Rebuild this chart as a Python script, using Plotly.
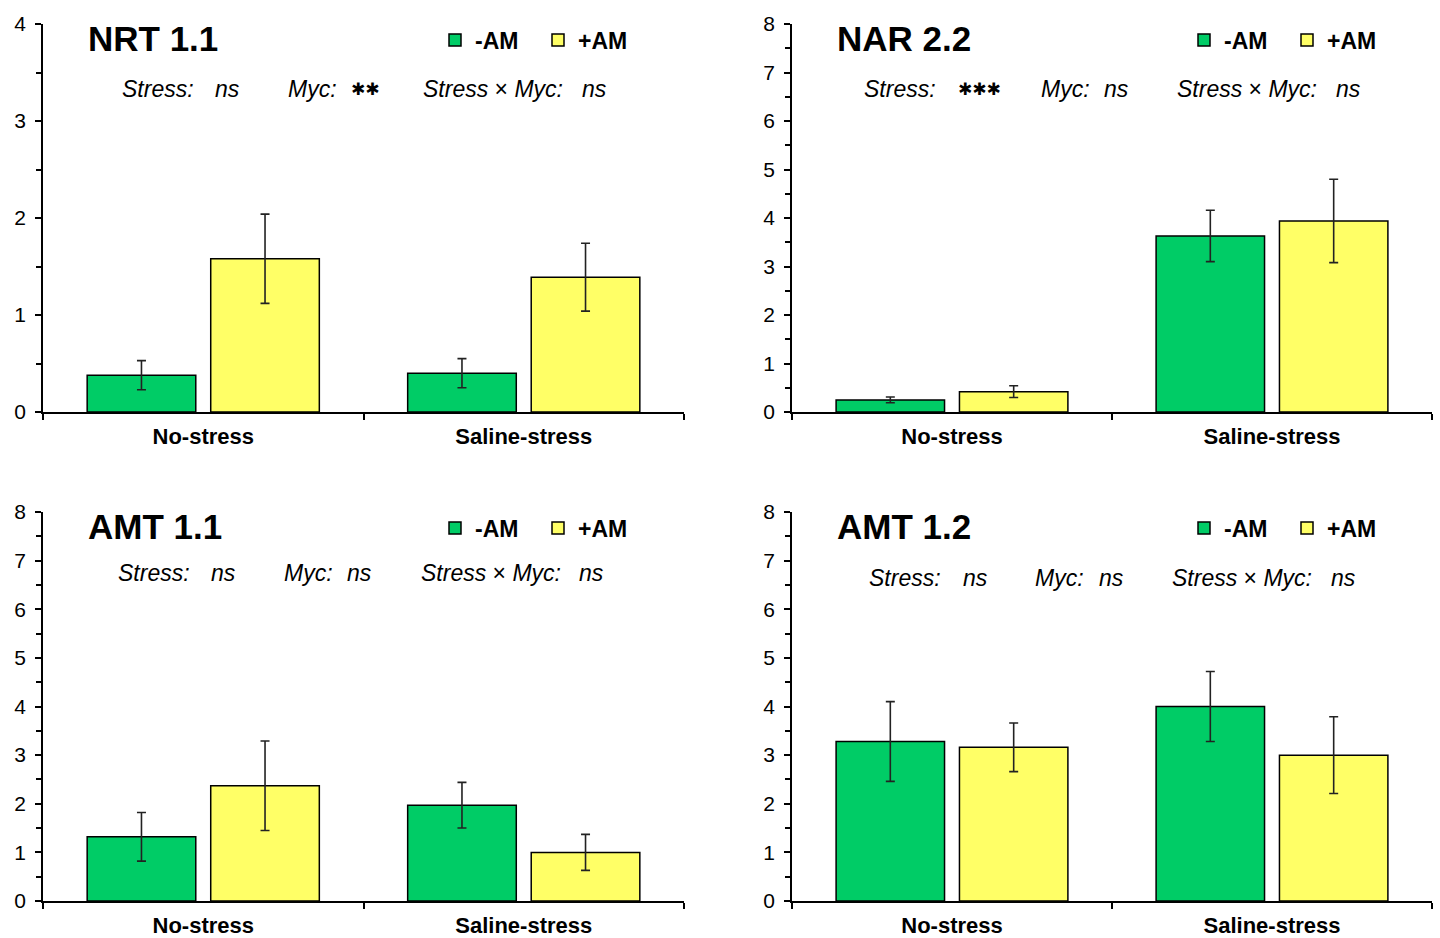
import plotly.graph_objects as go

# Relative expression of nitrogen transporter genes
categories = ["No-stress", "Saline-stress"]
treatments = ["-AM", "+AM"]
colors = {"-AM": "#00CC66", "+AM": "#FFFF66"}

genes = ["NRT 1.1", "NAR 2.2", "AMT 1.1", "AMT 1.2"]

nrt11_minus = [0.38, 0.40]
nrt11_minus_se = [0.15, 0.15]
nrt11_plus = [1.58, 1.39]
nrt11_plus_se = [0.46, 0.35]

nar22_minus = [0.25, 3.63]
nar22_minus_se = [0.06, 0.53]
nar22_plus = [0.42, 3.94]
nar22_plus_se = [0.12, 0.86]

amt11_minus = [1.32, 1.97]
amt11_minus_se = [0.50, 0.47]
amt11_plus = [2.37, 1.00]
amt11_plus_se = [0.92, 0.37]

amt12_minus = [3.28, 4.00]
amt12_minus_se = [0.82, 0.72]
amt12_plus = [3.16, 3.00]
amt12_plus_se = [0.50, 0.79]

y_max = [4, 8, 8, 8]

# ANOVA significance per gene: Stress, Myc, Stress x Myc
stress_sig = ["ns", "✱✱✱", "ns", "ns"]
myc_sig = ["✱✱", "ns", "ns", "ns"]
inter_sig = ["ns", "ns", "ns", "ns"]

series = [
    (nrt11_minus, nrt11_minus_se, nrt11_plus, nrt11_plus_se),
    (nar22_minus, nar22_minus_se, nar22_plus, nar22_plus_se),
    (amt11_minus, amt11_minus_se, amt11_plus, amt11_plus_se),
    (amt12_minus, amt12_minus_se, amt12_plus, amt12_plus_se),
]

W, H = 1440, 938
FONT = "Liberation Sans, Arial, sans-serif"

# panel placement in pixels: (left, right, top, bottom) of the plotting area
panels = [
    (43, 684, 24, 412),
    (792, 1432, 24, 412),
    (43, 684, 512, 901),
    (792, 1432, 512, 901),
]
# vertical pixel of the statistics line per panel
stat_y = [89, 89, 573, 578]
# horizontal offsets of the statistics pieces, relative to the panel's left edge
stat_x = [
    [77, 170, 243, 306, 378, 537],
    [70, 164, 247, 310, 383, 542],
    [73, 166, 239, 302, 376, 534],
    [75, 169, 241, 305, 378, 537],
]

fig = go.Figure()
layout = dict(
    template="none",
    width=W, height=H,
    margin=dict(l=0, r=0, t=0, b=0, autoexpand=False),
    paper_bgcolor="white", plot_bgcolor="white",
    barmode="group", bargap=0.229, bargroupgap=0.121,
    font=dict(family=FONT, color="black"),
    annotations=[],
)

for i, (gene, (m, mse, p, pse)) in enumerate(zip(genes, series)):
    n = "" if i == 0 else str(i + 1)
    xa, ya = "x" + n, "y" + n
    leg = "legend" + n
    for name, vals, errs in (("-AM", m, mse), ("+AM", p, pse)):
        fig.add_trace(go.Bar(
            x=categories, y=vals, name=name,
            xaxis=xa, yaxis=ya, legend=leg,
            marker=dict(color=colors[name], line=dict(color="black", width=1.5)),
            error_y=dict(type="data", array=errs, visible=True,
                         color="#222222", thickness=1.6, width=4.5),
        ))

    left, right, top, bottom = panels[i]
    xdom = [left / W, right / W]
    ydom = [(H - bottom) / H, (H - top) / H]
    layout["xaxis" + n] = dict(
        domain=xdom, anchor=ya, type="category", automargin=False,
        showline=True, linecolor="black", linewidth=1.5,
        ticks="outside", tickson="boundaries", ticklen=6, tickwidth=1.5,
        tickcolor="black", showgrid=False, zeroline=False,
        tickfont=dict(family=FONT, size=22, color="black", weight="bold"),
        ticklabelstandoff=4,
        range=[-0.5, 1.5], fixedrange=True,
    )
    layout["yaxis" + n] = dict(
        domain=ydom, anchor=xa, range=[0, y_max[i]], automargin=False,
        showline=True, linecolor="black", linewidth=1.5,
        ticks="outside", ticklen=6, tickwidth=1.5, tickcolor="black",
        dtick=1, showgrid=False, zeroline=False,
        minor=dict(dtick=0.5, ticks="outside", ticklen=5, tickwidth=1.5,
                   tickcolor="black", showgrid=False),
        tickfont=dict(family=FONT, size=21, color="black"),
        ticklabelstandoff=5,
    )
    layout[leg] = dict(
        orientation="h", x=(left + 392) / W, y=(H - (top + 16)) / H,
        xanchor="left", yanchor="middle",
        bgcolor="rgba(0,0,0,0)", itemwidth=30, entrywidth=58,
        font=dict(family=FONT, size=23, color="black", weight="bold"),
        itemclick=False, itemdoubleclick=False,
    )

    # gene name
    layout["annotations"].append(dict(
        text=f"<b>{gene}</b>", xref="paper", yref="paper",
        x=(left + 43) / W, y=(H - (top + 14)) / H,
        xanchor="left", yanchor="middle", showarrow=False,
        font=dict(family=FONT, size=35, color="black"),
    ))

    # statistics line
    pieces = [
        "<i>Stress:</i>",
        stress_sig[i] if "✱" in stress_sig[i] else f"<i>{stress_sig[i]}</i>",
        "<i>Myc:</i>",
        myc_sig[i] if "✱" in myc_sig[i] else f"<i>{myc_sig[i]}</i>",
        "<i>Stress</i> × <i>Myc:</i>",
        f"<i>{inter_sig[i]}</i>",
    ]
    for txt, off in zip(pieces, stat_x[i]):
        is_star = "✱" in txt
        layout["annotations"].append(dict(
            text=txt, xref="paper", yref="paper",
            x=(left + off) / W, y=(H - stat_y[i]) / H,
            xanchor="left", yanchor="middle", showarrow=False,
            font=dict(family="DejaVu Sans, sans-serif" if is_star else FONT,
                      size=17 if is_star else 23, color="black"),
        ))

fig.update_layout(**layout)
fig.write_html("out.html", config={"displayModeBar": False})
